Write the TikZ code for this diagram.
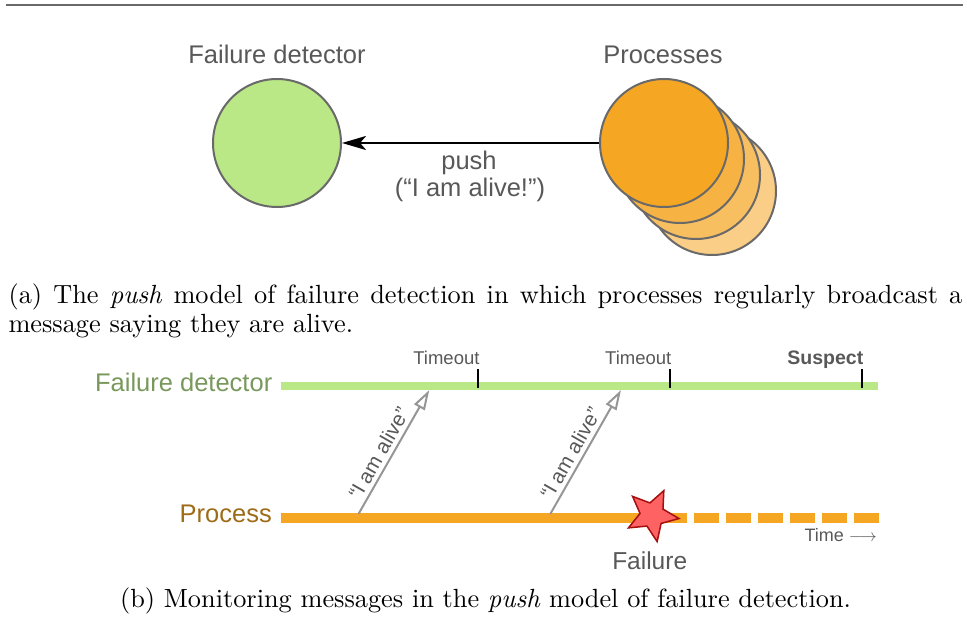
\documentclass[tikz,border=0pt]{standalone}
\usepackage{fontspec}
\setsansfont{Liberation Sans}
\usetikzlibrary{arrows.meta,shapes.geometric,positioning}

\definecolor{fdgreen}{RGB}{187,232,134}
\definecolor{fdtext}{RGB}{120,152,92}
\definecolor{procorange}{RGB}{245,166,35}
\definecolor{proctext}{RGB}{158,108,24}
\definecolor{rimgray}{RGB}{105,105,105}
\definecolor{labelgray}{RGB}{88,88,88}
\definecolor{msggray}{RGB}{150,150,150}
\definecolor{starred}{RGB}{255,98,98}
\definecolor{stardark}{RGB}{165,15,15}

\tikzset{
  disc/.style={circle, draw=rimgray, line width=2pt, minimum size=128pt, inner sep=0pt},
  biglabel/.style={font=\sffamily\fontsize{25.5}{30}\selectfont, text=labelgray, inner sep=0pt},
  smalllabel/.style={font=\sffamily\fontsize{18.5}{22}\selectfont, text=labelgray, inner sep=0pt},
  caption/.style={font=\fontsize{10}{12}\selectfont, scale=2.63, inner sep=0pt},
  msgarrow/.style={draw=msggray, line width=2pt, -{Triangle[open, fill=white, length=20pt, width=12pt]}},
  msglabel/.style={font=\sffamily\fontsize{20.5}{24}\selectfont, text=labelgray, sloped, above, inner sep=4pt},
}

\begin{document}
\begin{tikzpicture}[x=1pt, y=-1pt]
  \useasboundingbox (0,0) rectangle (967,620);

  % rule on top
  \draw[line width=2pt, rimgray] (6,4.7) -- (963,4.7);

  % (a) push model
  \node[disc, fill=fdgreen] (detector) at (277,143) {};
  \foreach \k/\tint in {3/55, 2/72, 1/85} {
    \node[disc, fill=procorange!\tint!white] (proc\k) at (664+16*\k, 143+16*\k) {};
  }
  \node[disc, fill=procorange] (proc0) at (664,143) {};

  \node[biglabel, anchor=base] (fdname) at (277,63.3) {Failure detector};
  \node[biglabel, anchor=base] (procname) at (663,63.3) {Processes};

  \draw[line width=2.5pt, -{Stealth[length=24pt, width=14pt, inset=6pt]}] (proc0) -- (detector);
  \node[biglabel, anchor=base] (push) at (469,169.3) {push};
  \node[biglabel, anchor=base] (alive) at (470,196.7) {(“I am alive!”)};

  \node[caption, anchor=base west] (capa1) at (8,303.3)
    {\makebox[362.7pt][s]{(a) The \emph{push} model of failure detection in which processes regularly broadcast a}};
  \node[caption, anchor=base west] (capa2) at (8,332.5) {message saying they are alive.};

  % (b) timelines
  \coordinate (fdstart) at (281,386);
  \coordinate (fdend) at (878,386);
  \coordinate (prstart) at (281,517.7);
  \coordinate (prfail) at (687,517.7);
  \coordinate (prdash) at (694,517.7);
  \coordinate (prend) at (879,517.7);

  \node[biglabel, text=fdtext, anchor=base east] (fdline) at (272.5,391.7) {Failure detector};
  \node[biglabel, text=proctext, anchor=base east] (prline) at (272,522.7) {Process};

  \draw[fdgreen, line width=8pt] (fdstart) -- (fdend);
  \draw[procorange, line width=10pt] (prstart) -- (prfail);
  \draw[procorange, line width=10pt, dash pattern=on 24.5pt off 7.5pt] (prdash) -- (prend);

  % timeouts
  \foreach \t/\txt in {478.2/Timeout, 670/Timeout} {
    \draw[line width=2pt] (\t,369.3) -- (\t,387.7);
    \node[smalllabel, anchor=base east] at (\t+1.5,365) {\txt};
  }
  \draw[line width=2pt] (862,369.3) -- (862,387.7);
  \node[smalllabel, anchor=base east, font=\sffamily\bfseries\fontsize{19.5}{22}\selectfont] (suspect) at (863.5,365) {Suspect};

  % heartbeats
  \coordinate (send1) at (358.5,514);
  \coordinate (recv1) at (429.3,390);
  \coordinate (send2) at (550.3,514);
  \coordinate (recv2) at (621,390);
  \draw[msgarrow] (send1) -- node[msglabel, pos=0.44] {“I am alive”} (recv1);
  \draw[msgarrow] (send2) -- node[msglabel, pos=0.44] {“I am alive”} (recv2);

  % crash
  \node[star, star points=5, star point ratio=2.2, minimum size=54pt, inner sep=0pt, rotate=-25.5,
        fill=starred, draw=stardark, line width=1.5pt] (failstar) at (652.2,515) {};
  \node[biglabel, font=\sffamily\fontsize{24.5}{28}\selectfont, anchor=base] (failure) at (649.7,569.3) {Failure};
  \node[smalllabel, font=\sffamily\fontsize{18}{22}\selectfont, anchor=base east] (time) at (877,541.7) {Time $\longrightarrow$};

  \node[caption, anchor=base] (capb) at (485.5,607)
    {(b) Monitoring messages in the \emph{push} model of failure detection.};
\end{tikzpicture}
\end{document}
